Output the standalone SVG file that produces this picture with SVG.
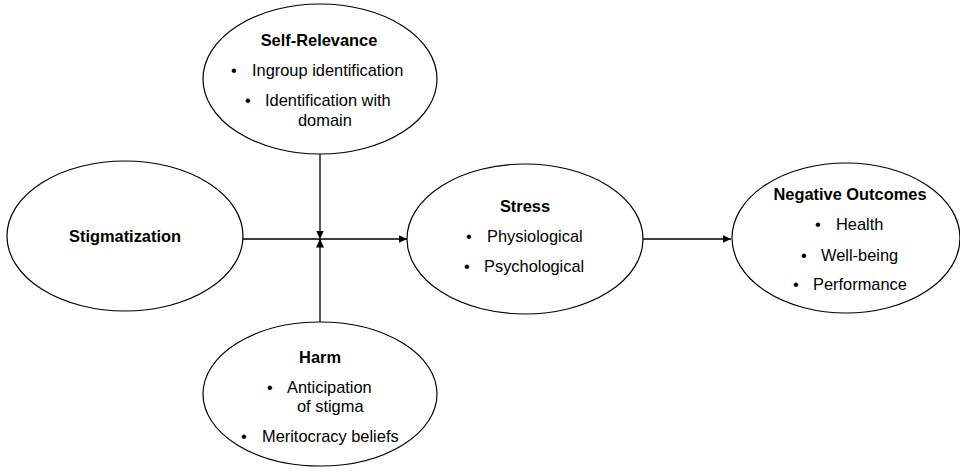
<svg xmlns="http://www.w3.org/2000/svg" width="960" height="472" viewBox="0 0 960 472">
<defs>
<marker id="arr" markerUnits="userSpaceOnUse" markerWidth="9" markerHeight="9" refX="8.5" refY="4" orient="auto">
<path d="M0,0 L8.5,4 L0,8 z" fill="#000"/>
</marker>
<style>
.node ellipse{fill:#fff;stroke:#000;stroke-width:1.2}
text{font-family:"Liberation Sans",Arial,sans-serif;font-size:16.4px;fill:#000}
.t{font-weight:bold;text-anchor:middle}
.c{text-anchor:middle}
.conn line{stroke:#000;stroke-width:1.3;fill:none}
</style>
</defs>
<rect width="960" height="472" fill="#fff"/>
<g class="conn" id="connectors">
<line x1="242" y1="239" x2="407" y2="239" marker-end="url(#arr)"/>
<line x1="320" y1="154" x2="320" y2="239" marker-end="url(#arr)"/>
<line x1="320" y1="322" x2="320" y2="239" marker-end="url(#arr)"/>
<line x1="642" y1="239" x2="731" y2="239" marker-end="url(#arr)"/>
</g>
<g class="node" id="self-relevance">
<ellipse cx="320" cy="79" rx="117" ry="75"/>
<text class="t" x="319" y="46">Self-Relevance</text>
<text x="231" y="76">•</text><text x="252" y="76">Ingroup identification</text>
<text x="245" y="106">•</text><text x="265" y="106">Identification with</text>
<text x="298" y="126">domain</text>
</g>
<g class="node" id="stigmatization">
<ellipse cx="125" cy="236" rx="118" ry="75"/>
<text class="t" x="125" y="242">Stigmatization</text>
</g>
<g class="node" id="stress">
<ellipse cx="525" cy="239" rx="118" ry="75"/>
<text class="t" x="525" y="212">Stress</text>
<text x="466" y="242">•</text><text x="487" y="242">Physiological</text>
<text x="464" y="272">•</text><text x="484" y="272">Psychological</text>
</g>
<g class="node" id="negative-outcomes">
<ellipse cx="846" cy="238" rx="114" ry="75"/>
<text class="t" x="850" y="200">Negative Outcomes</text>
<text x="815" y="230">•</text><text x="836" y="230">Health</text>
<text x="801" y="261">•</text><text x="821" y="261">Well-being</text>
<text x="793" y="290">•</text><text x="813" y="290">Performance</text>
</g>
<g class="node" id="harm">
<ellipse cx="320" cy="394" rx="117" ry="72"/>
<text class="t" x="320" y="363">Harm</text>
<text x="267" y="393">•</text><text x="287" y="393">Anticipation</text>
<text x="297" y="412">of stigma</text>
<text x="241" y="442">•</text><text x="262" y="442">Meritocracy beliefs</text>
</g>
</svg>
